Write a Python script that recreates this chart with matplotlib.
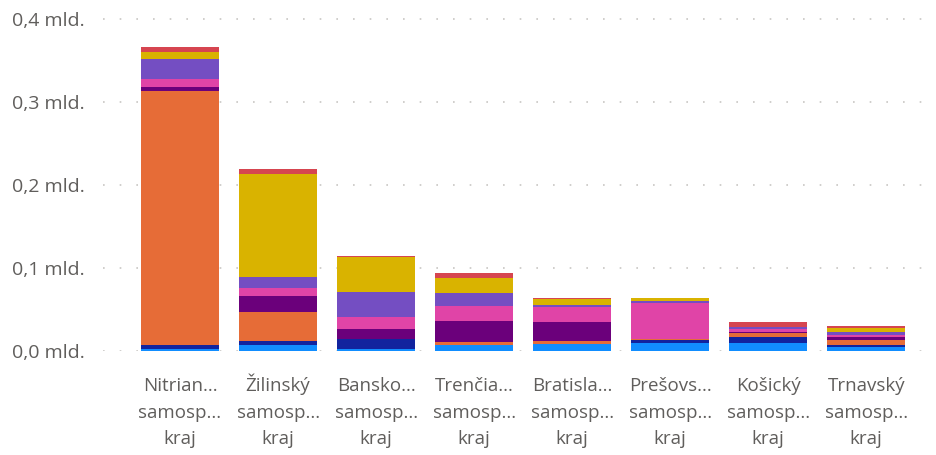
import matplotlib
matplotlib.use("Agg")
import matplotlib.pyplot as plt
import numpy as np

# regions (x axis), truncated like the original visual
regions = [
    "Nitrian...\nsamosp...\nkraj",
    "Žilinský\nsamosp...\nkraj",
    "Bansko...\nsamosp...\nkraj",
    "Trenčia...\nsamosp...\nkraj",
    "Bratisla...\nsamosp...\nkraj",
    "Prešovs...\nsamosp...\nkraj",
    "Košický\nsamosp...\nkraj",
    "Trnavský\nsamosp...\nkraj",
]

# stacked series, bottom to top (values in mld.)
s_blue      = [0.0020, 0.0072, 0.0020, 0.0069, 0.0080, 0.0101, 0.0100, 0.0048]
s_darkblue  = [0.0052, 0.0052, 0.0120, 0.0005, 0.0003, 0.0036, 0.0068, 0.0024]
s_orange    = [0.3060, 0.0342, 0.0008, 0.0032, 0.0036, 0.0004, 0.0052, 0.0060]
s_purple    = [0.0045, 0.0196, 0.0112, 0.0257, 0.0233, 0.0003, 0.0005, 0.0040]
s_pink      = [0.0100, 0.0093, 0.0148, 0.0185, 0.0180, 0.0434, 0.0040, 0.0020]
s_violet    = [0.0240, 0.0140, 0.0300, 0.0149, 0.0024, 0.0020, 0.0020, 0.0040]
s_yellow    = [0.0088, 0.1237, 0.0420, 0.0180, 0.0068, 0.0040, 0.0005, 0.0040]
s_red       = [0.0060, 0.0057, 0.0020, 0.0068, 0.0020, 0.0006, 0.0060, 0.0028]

series = [s_blue, s_darkblue, s_orange, s_purple, s_pink, s_violet, s_yellow, s_red]
colors = ["#118DFF", "#12239E", "#E66C37", "#6B007B", "#E044A7", "#744EC2", "#D9B300", "#D64550"]

yticks = [0.0, 0.1, 0.2, 0.3, 0.4]
ytick_labels = ["0,0 mld.", "0,1 mld.", "0,2 mld.", "0,3 mld.", "0,4 mld."]

W, H = 937, 455
plt.rcParams['font.family'] = ['Open Sans', 'DejaVu Sans']
fig = plt.figure(figsize=(W / 100, H / 100), dpi=100)

ymax = 0.405
zero_px, top_px = 351, 19 - 0.005 * 830
ax = fig.add_axes([103 / W, (H - zero_px) / H, (925 - 103) / W, (zero_px - top_px) / H])

x = np.arange(len(regions))
bottom = np.zeros(len(regions))
for vals, c in zip(series, colors):
    ax.bar(x, vals, bottom=bottom, width=0.79, color=c, edgecolor="none", zorder=3)
    bottom += np.array(vals)

ax.set_xlim(-0.786, 7.6)
ax.set_ylim(0, ymax)
ax.set_yticks(yticks)
ax.set_yticklabels(ytick_labels, fontsize=14)
ax.grid(axis="y", color="#C8C6C4", linestyle=(0, (1, 9)), linewidth=1.2, zorder=0)

ax.set_xticks(x)
ax.set_xticklabels(regions, linespacing=1.6, fontsize=13.5)
# align on the last line's baseline so "Ž" does not push its label down
for t in ax.get_xticklabels():
    t.set_va("baseline")
ax.tick_params(axis="both", length=0, labelcolor="#605E5C")
ax.tick_params(axis="y", pad=13)
ax.tick_params(axis="x", pad=67)
for s in ax.spines.values():
    s.set_visible(False)

fig.savefig("out.png", dpi=100)
